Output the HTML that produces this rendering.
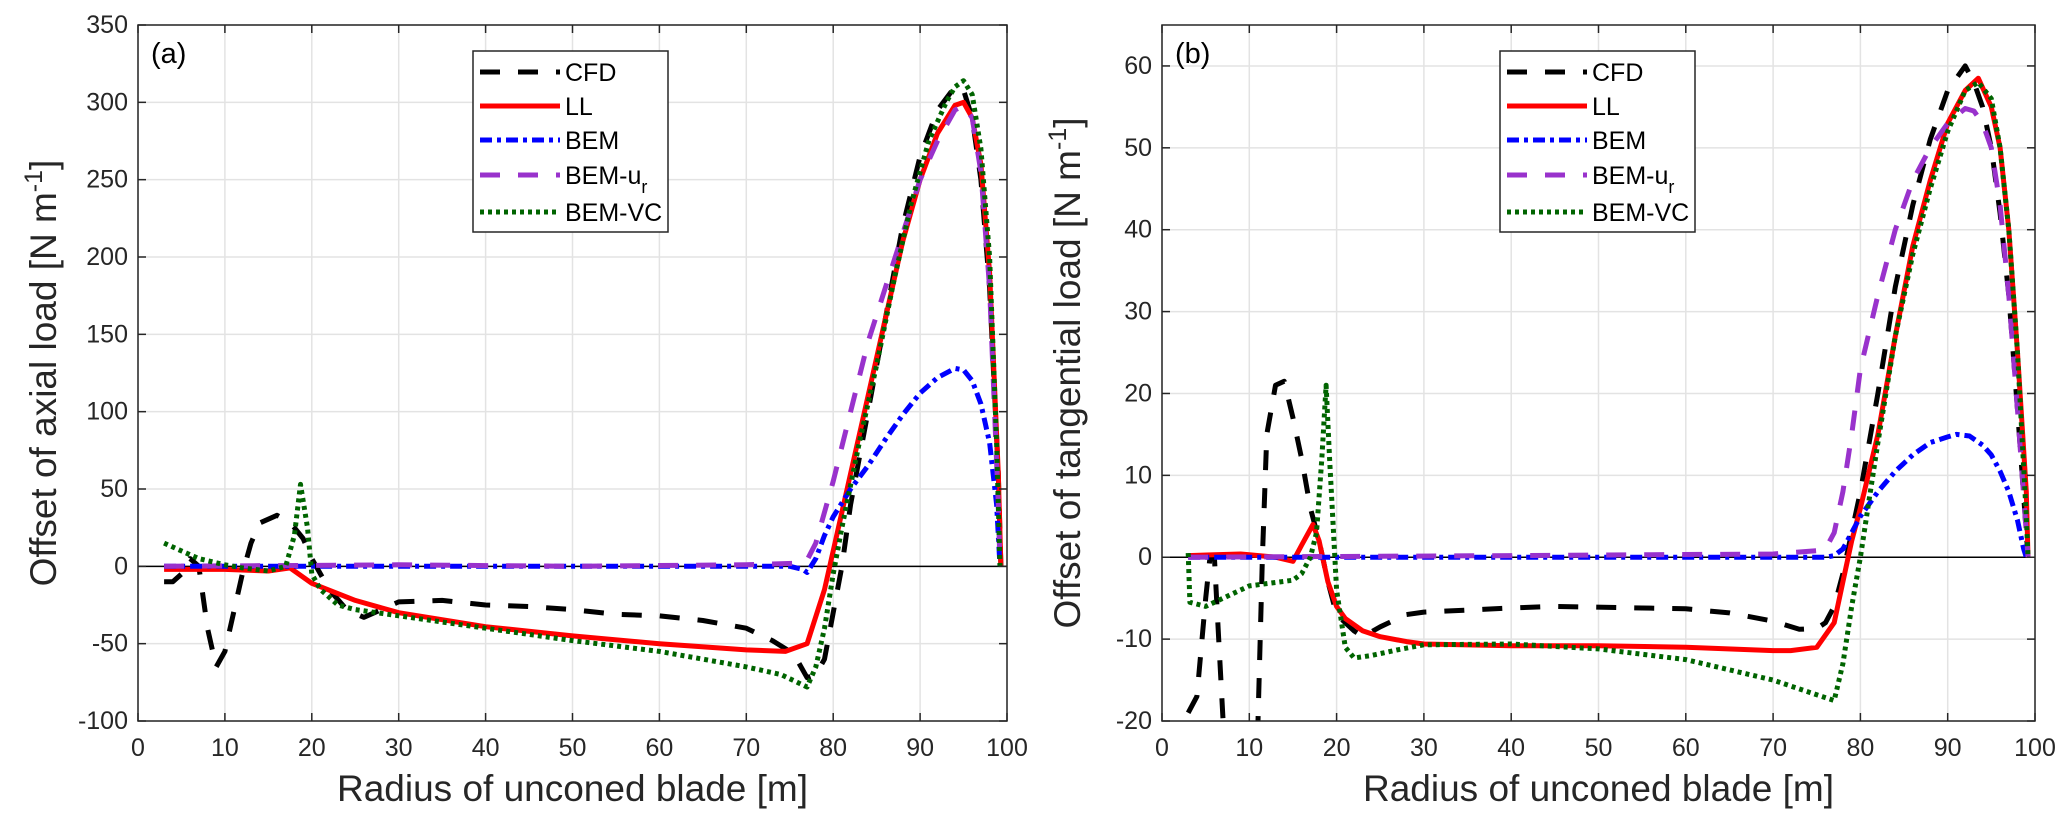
<!DOCTYPE html>
<html><head><meta charset="utf-8"><style>
body{margin:0;background:#fff}
svg{display:block;font-family:"Liberation Sans",sans-serif}
</style></head><body>
<svg id="fig" width="2067" height="827" viewBox="0 0 2067 827"></svg>
<script>
const NS="http://www.w3.org/2000/svg";
const svg=document.getElementById('fig');
// ---- data panel (a)
const aCFD=[[3,-10],[4,-10],[5,-5],[6,5],[7,0],[8,-40],[9,-65],[10,-55],[11,-30],[12,-5],[13,15],[14,28],[16,33],[17,30],[18,25],[19,18],[20,5],[22,-15],[24,-28],[26,-33],[28,-28],[30,-23],[35,-22],[40,-25],[45,-26],[50,-28],[55,-31],[60,-32],[65,-35],[70,-40],[73,-48],[75,-55],[76,-62],[77,-72],[78,-70],[79,-60],[80,-30],[81,0],[82,40],[84,100],[86,160],[88,220],[90,265],[92,295],[94,310],[95,308],[96,290],[97,250],[98,180],[99,60],[99.3,0]];
const aLL=[[3,-2],[10,-2],[15,-3],[17.5,-1],[20,-11],[25,-22],[30,-30],[40,-39],[50,-45],[60,-50],[70,-54],[74.5,-55],[77,-50],[79,-15],[80,10],[82,60],[84,110],[86,160],[88,210],[90,250],[92,280],[94,298],[95,300],[96,290],[97,260],[98,190],[99,60],[99.3,0]];
const aBEM=[[3,0],[75,0],[76.5,-2],[77,-4],[78,5],[79,20],[80,32],[82,50],[84,65],[86,82],[88,98],[90,112],[92,122],[94,128],[95,127],[96,120],[97,105],[98,80],[98.8,40],[99.2,0]];
const aBEMur=[[3,0],[30,1],[50,0],[70,1],[76,2],[77,4],[78,15],[79,35],[80,55],[82,100],[84,145],[86,180],[88,215],[90,250],[92,275],[94,295],[95,298],[96,290],[97,255],[98,180],[99,40],[99.2,0]];
const aVC=[[3,15],[5,10],[7,5],[10,1],[12,-1],[15,-3],[17,0],[18,20],[18.7,53],[19.5,25],[20,-5],[21,-15],[23,-25],[25,-28],[30,-32],[40,-40],[50,-48],[60,-55],[70,-65],[74,-70],[77,-78],[78,-65],[79,-40],[80,-5],[81,25],[83,80],[85,130],[87,185],[89,235],[91,275],[93,300],[94,310],[95,314],[96,305],[97,270],[98,200],[98.8,80],[99.2,0]];
// ---- data panel (b)
const bCFD=[[3,-19],[4,-17],[5,-5],[5.5,0],[6,0],[6.5,-10],[7,-20],[8,-30],[10,-30],[11,-20],[11.5,0],[12,15],[13,21],[14,21.5],[15,17],[16,12],[17,6],[18,2],[19,-3],[20,-7],[22,-9],[23,-9.7],[25,-8.5],[28,-7],[30,-6.7],[40,-6.2],[45,-6],[55,-6.2],[60,-6.3],[65,-6.8],[70,-7.8],[73,-8.8],[75,-8.7],[76,-8],[77,-6],[78,-2],[80,8],[82,20],[84,33],[86,43],[88,51],[90,57],[92,60],[93,58],[94,55],[95,50],[96,42],[97,32],[98,18],[99,3],[99.2,0]];
const bLL=[[3,0.2],[6,0.3],[9,0.4],[10,0.3],[13,0],[15,-0.5],[16,1.5],[17.3,4],[18,2],[19,-3],[20,-6],[21,-7.5],[23,-9],[25,-9.7],[28,-10.3],[30,-10.6],[40,-10.8],[50,-10.8],[60,-11],[70,-11.4],[72,-11.4],[75,-11],[77,-8],[78,-3],[79,2],[80,6],[82,15],[84,27],[86,38],[88,46],[90,53],[92,57],[93.5,58.5],[95,55],[96,50],[97,40],[98,25],[99,8],[99.2,0]];
const bBEM=[[3,0],[76,0],[77,0.2],[78,1],[79,3],[80,5],[82,8],[84,10.5],[86,12.5],[88,14],[90,14.7],[91,15],[92.5,14.8],[94,13.7],[95,12.5],[96,10.5],[97,8],[98,4.5],[98.7,1],[99,0]];
const bBEMur=[[3,0],[40,0.2],[70,0.4],[75,0.8],[76,1],[77,3],[78,8],[79,15],[80,23],[82,32],[84,40],[86,46],[88,50],[90,53],[92,54.8],[93,54.5],[94,53],[95,50],[96,43],[97,32],[98,18],[99,3],[99.2,0]];
const bVC=[[3,0.5],[3.2,-5.5],[5,-6],[7,-5],[10,-3.5],[15,-2.8],[16,-2],[17,0],[17.7,3],[18.3,12],[18.8,21],[19.2,12],[20,-4],[21,-11],[22,-12.3],[24,-12],[27,-11.3],[30,-10.7],[40,-10.6],[50,-11.2],[60,-12.5],[70,-15],[75,-16.8],[77,-17.5],[78,-13],[79,-6],[80,0],[81,7],[82,14],[84,27],[86,37],[88,45],[90,52],[92,57],[93.5,58],[95,56],[96,50],[97,40],[98,25],[99,5],[99.2,0]];
const xTicks=[0,10,20,30,40,50,60,70,80,90,100];
const aYTicks=[-100,-50,0,50,100,150,200,250,300,350];
const bYTicks=[-20,-10,0,10,20,30,40,50,60];
const seriesNames=["CFD","LL","BEM","BEM-u","BEM-VC"];

const styles=[
 {c:"#000",w:5,d:"20 18"},
 {c:"#ff0000",w:5,d:""},
 {c:"#0000ff",w:5,d:"12 5 4 5"},
 {c:"#9932cc",w:5,d:"20 18"},
 {c:"#006400",w:5,d:"4 4"}];

function el(tag,attrs,parent,text){const e=document.createElementNS(NS,tag);for(const k in attrs)e.setAttribute(k,attrs[k]);if(text!==undefined)e.textContent=text;(parent||svg).appendChild(e);return e;}

function panel(id,L,R,T,B,ymin,ymax,yticks,series,ytitle,tag,legX){
 const g=el('g',{});
 
 
 const X=v=>L+(v-0)/100*(R-L);
 const Y=v=>B-(v-ymin)/(ymax-ymin)*(B-T);
 el('rect',{x:L,y:T,width:R-L,height:B-T,fill:'#fff'},g);
 for(const t of xTicks){const l=el('line',{x1:X(t),x2:X(t),y1:T,y2:B,stroke:'#e3e3e3','stroke-width':1.5},g);}
 for(const t of yticks){const l=el('line',{x1:L,x2:R,y1:Y(t),y2:Y(t),stroke:'#e3e3e3','stroke-width':1.5},g);}
 const zl=el('line',{x1:L,x2:R,y1:Y(0),y2:Y(0),stroke:'#000','stroke-width':1.5},g);
 
 el('clipPath',{id:'clip'+id},g);
 el('rect',{x:L,y:T,width:R-L,height:B-T},g.lastChild);
 series.forEach((s,i)=>{
  const d=s.map((p,j)=>(j?'L':'M')+X(p[0]).toFixed(1)+','+Y(p[1]).toFixed(1)).join('');
  const st=styles[i];
  const p=el('path',{d:d,fill:'none',stroke:st.c,'stroke-width':st.w,'stroke-dasharray':st.d,'clip-path':'url(#clip'+id+')','stroke-linejoin':'round'},g);
  
  
 });
 el('rect',{x:L,y:T,width:R-L,height:B-T,fill:'none',stroke:'#262626','stroke-width':1.5},g);
 for(const t of xTicks){
  el('line',{x1:X(t),x2:X(t),y1:B,y2:B-8,stroke:'#262626','stroke-width':1.5},g);
  el('line',{x1:X(t),x2:X(t),y1:T,y2:T+8,stroke:'#262626','stroke-width':1.5},g);
  const tx=el('text',{x:X(t),y:B+35,'font-size':25,'text-anchor':'middle',fill:'#262626'},g,String(t));
  
 }
 for(const t of yticks){
  el('line',{x1:L,x2:L+8,y1:Y(t),y2:Y(t),stroke:'#262626','stroke-width':1.5},g);
  el('line',{x1:R,x2:R-8,y1:Y(t),y2:Y(t),stroke:'#262626','stroke-width':1.5},g);
  const ty=el('text',{x:L-10,y:Y(t)+8,'font-size':25,'text-anchor':'end',fill:'#262626'},g,String(t));
  
 }
 const xt=el('text',{x:(L+R)/2,y:801,'font-size':37,'text-anchor':'middle',fill:'#262626'},g,'Radius of unconed blade [m]');
 
 const yc=(T+B)/2, yx=L-82;
 const yt=el('text',{x:yx,y:yc,'font-size':37,'text-anchor':'middle',fill:'#262626',transform:`rotate(-90 ${yx} ${yc})`},g);
 
 yt.appendChild(document.createTextNode(ytitle+' [N m'));
 el('tspan',{'baseline-shift':'super','font-size':25},yt,'-1');
 yt.appendChild(document.createTextNode(']'));
 const pl=el('text',{x:L+13,y:T+38,'font-size':29,fill:'#000'},g,tag);
 
 // legend
 const lg=el('g',{},g);
 
 el('rect',{x:legX,y:51,width:195,height:181,fill:'#fff',stroke:'#262626','stroke-width':1.5},lg);
 const rows=[72,106,140,175,212];
 seriesNames.forEach((n,i)=>{
  const st=styles[i];
  const e=el('g',{},lg);
  
  el('line',{x1:legX+7,x2:legX+87,y1:rows[i],y2:rows[i],stroke:st.c,'stroke-width':st.w,'stroke-dasharray':st.d},e);
  const t=el('text',{x:legX+92,y:rows[i]+9,'font-size':25,fill:'#000'},e,n);
  if(n==='BEM-u') el('tspan',{dy:9,'font-size':18},t,'r');
 });
}
panel('a',138,1007,25,721,-100,350,aYTicks,[aCFD,aLL,aBEM,aBEMur,aVC],'Offset of axial load','(a)',473);
panel('b',1162,2035,25,721,-20,65,bYTicks,[bCFD,bLL,bBEM,bBEMur,bVC],'Offset of tangential load','(b)',1500);
</script>
</body></html>
